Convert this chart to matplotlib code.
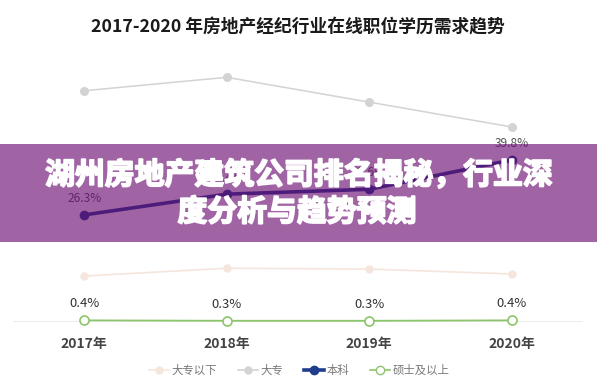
import matplotlib
matplotlib.use("Agg")
import matplotlib.pyplot as plt
from matplotlib.patches import Rectangle
from matplotlib.lines import Line2D
import matplotlib.patheffects as pe

plt.rcParams['font.family'] = ['Noto Sans CJK SC', 'DejaVu Sans']

# ---- data ----
years = ["2017年", "2018年", "2019年", "2020年"]
below_college = [11.3, 13.2, 13.0, 11.8]      # 大专以下
college = [56.8, 60.1, 54.0, 47.9]            # 大专
bachelor = [26.3, 31.4, 32.6, 39.8]           # 本科
master = [0.4, 0.3, 0.3, 0.4]                 # 硕士及以上
series_names = ["大专以下", "大专", "本科", "硕士及以上"]
title = "2017-2020 年房地产经纪行业在线职位学历需求趋势"
banner_lines = ["湖州房地产建筑公司排名揭秘，行业深", "度分析与趋势预测"]

W, H = 597, 387
fig = plt.figure(figsize=(W / 100, H / 100), dpi=100)
fig.patch.set_facecolor("white")

ax = fig.add_axes([13 / W, 65 / H, 570 / W, 285 / H])
ax.set_xlim(-0.5, 3.5)
ax.set_ylim(0, 70)
ax.axis("off")
x = list(range(len(years)))

ax.axhline(0, color="#e8e8e8", lw=1.2, zorder=1)

c_below = "#f5e6dd"
c_college = "#d3d3d3"
c_bach = "#1f3d8c"
c_master = "#8dc56c"

ax.plot(x, below_college, color=c_below, lw=1.2, marker="o", ms=5,
        mfc=c_below, mec=c_below, zorder=2, clip_on=False)
ax.plot(x, college, color=c_college, lw=1.1, marker="o", ms=5.5,
        mfc=c_college, mec=c_college, zorder=2, clip_on=False)
ax.plot(x, bachelor, color=c_bach, lw=2.6, marker="o", ms=6,
        mfc=c_bach, mec=c_bach, zorder=3, clip_on=False)
ax.plot(x, master, color=c_master, lw=1.3, marker="o", ms=6.5,
        mfc="white", mec=c_master, mew=1.2, zorder=3, clip_on=False)

for xi, v in zip(x, bachelor):
    ax.annotate(f"{v}%", (xi, v), xytext=(0, 12), textcoords="offset points",
                ha="center", va="center", fontsize=8.6, color="#555555")
for xi, v in zip(x, master):
    ax.annotate(f"{v}%", (xi, v), xytext=(0, 12), textcoords="offset points",
                ha="center", va="center", fontsize=9.4, color="#333333")

for xi, lab in zip(x, years):
    ax.annotate(lab, (xi, 0), xytext=(0, -16), textcoords="offset points",
                ha="center", va="center", fontsize=10, fontweight="bold",
                color="#444444")

fig.text(298 / W, 1 - 27 / H, title, ha="center", va="center",
         fontsize=12.8, fontweight="bold", color="#1a1a1a")

handles = [
    Line2D([], [], color=c_below, lw=1.2, marker="o", ms=5, mfc=c_below, mec=c_below),
    Line2D([], [], color=c_college, lw=1.2, marker="o", ms=5, mfc=c_college, mec=c_college),
    Line2D([], [], color=c_bach, lw=2.6, marker="o", ms=6, mfc=c_bach, mec=c_bach),
    Line2D([], [], color=c_master, lw=1.2, marker="o", ms=6, mfc="white", mec=c_master),
]
leg = fig.legend(handles, series_names, loc="center", ncol=4, frameon=False,
                 bbox_to_anchor=(299 / W, 1 - 370 / H), fontsize=8.2,
                 handlelength=1.8, handletextpad=0.2, columnspacing=1.8,
                 labelcolor="#777777")

# banner overlay
banner = Rectangle((0, 1 - 242 / H), 1, 98 / H, transform=fig.transFigure,
                   facecolor="#690a71", alpha=0.63, edgecolor="none", zorder=5)
fig.patches.append(banner)

heavy = [pe.withStroke(linewidth=1.3, foreground="white")]
fig.text(299 / W, 1 - 175 / H, banner_lines[0], ha="center", va="center",
         fontsize=21.5, fontweight="bold", color="white", zorder=6,
         path_effects=heavy)
fig.text(297 / W, 1 - 212 / H, banner_lines[1], ha="center", va="center",
         fontsize=21.5, fontweight="bold", color="white", zorder=6,
         path_effects=heavy)

fig.savefig("out.png", dpi=100)
